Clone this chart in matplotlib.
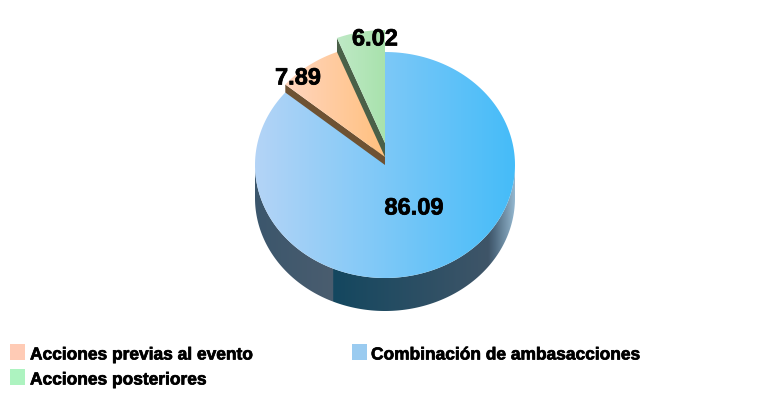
import numpy as np
import matplotlib
matplotlib.use('Agg')
import matplotlib.pyplot as plt
import matplotlib.patheffects as pe
from matplotlib.colors import LinearSegmentedColormap
from matplotlib.patches import Polygon, Rectangle

plt.rcParams['font.family'] = ['Liberation Sans', 'DejaVu Sans']

# values, going anticlockwise from 12 o'clock
labels = ['Acciones posteriores', 'Acciones previas al evento', 'Combinación de ambasacciones']
values = [6.02, 7.89, 86.09]
value_labels = ['6.02', '7.89', '86.09']

# pie geometry in pixels
cx, cy = 385, 165
rx, ry = 130, 113
depth = 33
lift = [22, 8, 0]

top_cols = [['#BFE9C6', '#A8E2AC'], ['#FFD6C0', '#FFC07E'], ['#B4D4F6', '#45BCF9']]
edge_cols = ['#4A6048', '#6E5233', '#3F5568']
swatch_cols = ['#ADF3C0', '#FFCBB5', '#9ACBF0']

fig = plt.figure(figsize=(7.57, 3.96), dpi=100)
ax = fig.add_axes([0, 0, 1, 1])


def arc(a0, a1, y0):
    t = np.radians(np.linspace(a0, a1, 200))
    return np.column_stack([cx - rx * np.sin(t), y0 - ry * np.cos(t)])


def fill_grad(pts, cmap, x0, x1, zorder):
    ys = pts[:, 1]
    grad = np.linspace(0, 1, 256).reshape(1, -1)
    im = ax.imshow(grad, cmap=cmap, extent=[x0, x1, ys.max(), ys.min()],
                   aspect='auto', zorder=zorder, interpolation='bilinear')
    im.set_clip_path(Polygon(pts, closed=True, transform=ax.transData))


ends = np.cumsum(values) / np.sum(values) * 360
starts = np.r_[0, ends[:-1]]

for i in range(3):
    y0 = cy - lift[i]
    a0, a1 = starts[i], ends[i]
    z = 2 * i + 1

    # the sloping cut face on the left side of the two small slices
    if i < 2:
        p = arc(a1, a1, y0)[0]
        face = np.array([p, [cx, y0], [cx, y0 + depth], [p[0], p[1] + depth]])
        ax.add_patch(Polygon(face, closed=True, fc=edge_cols[i], ec='none', zorder=z))
    else:
        # outer wall of the big slice, only the front half shows
        rim = arc(90, 270, cy)
        wall = np.vstack([rim, rim[::-1] + [0, depth]])
        side = LinearSegmentedColormap.from_list('side', [
            (0.0, '#3B566C'), (0.30, '#4A5D6F'), (0.302, '#14475F'),
            (0.90, '#3F5568'), (0.925, '#4F6A80'), (1.0, '#93B6CE')])
        fill_grad(wall, side, cx - rx, cx + rx, z)

    top = np.vstack([[cx, y0], arc(a0, a1, y0)])
    cmap = LinearSegmentedColormap.from_list('top%d' % i, top_cols[i])
    fill_grad(top, cmap, top[:, 0].min(), top[:, 0].max(), z + 1)

# slightly heavier strokes, the reference text looks fattened
heavy = [pe.withStroke(linewidth=0.5, foreground='black')]

# value labels
label_pos = [(375, 39), (298, 78), (414, 208)]
for txt, (x, y) in zip(value_labels, label_pos):
    ax.text(x, y, txt, fontsize=17, fontweight='bold', color='black',
            ha='center', va='center', zorder=10, path_effects=heavy)

# legend
legend_pos = [(10, 369), (10, 344), (352, 344)]
text_off = [20, 20, 19]
for name, col, (x, y), off in zip(labels, swatch_cols, legend_pos, text_off):
    ax.add_patch(Rectangle((x, y), 15, 16, fc=col, ec='none', zorder=10))
    ax.text(x + off, y + 11, name, fontsize=12.5, fontweight='bold', color='black',
            ha='left', va='center', zorder=10, path_effects=heavy)

ax.set_xlim(0, 757)
ax.set_ylim(396, 0)
ax.axis('off')

plt.savefig('out.png', dpi=100)
